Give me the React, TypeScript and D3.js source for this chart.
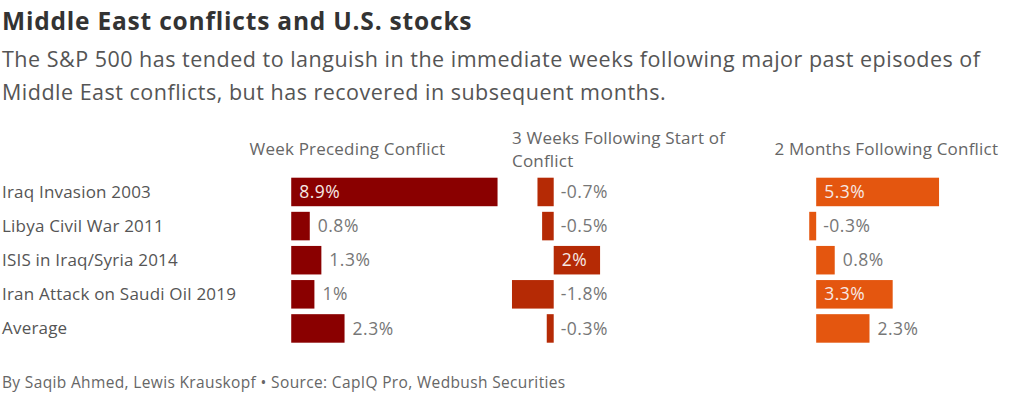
import React, { useEffect, useRef } from 'react'
import * as d3 from 'd3'

const conflicts = [
  'Iraq Invasion 2003',
  'Libya Civil War 2011',
  'ISIS in Iraq/Syria 2014',
  'Iran Attack on Saudi Oil 2019',
  'Average',
]
const periods = ['Week Preceding Conflict', '3 Weeks Following Start of Conflict', '2 Months Following Conflict']
const periodLines = [['Week Preceding Conflict'], ['3 Weeks Following Start of', 'Conflict'], ['2 Months Following Conflict']]
const weekBefore = [8.9, 0.8, 1.3, 1.0, 2.3]
const threeWeeksAfter = [-0.7, -0.5, 2.0, -1.8, -0.3]
const twoMonthsAfter = [5.3, -0.3, 0.8, 3.3, 2.3]
const colors = ['#8a0000', '#b52a05', '#e4560f']

const title = 'Middle East conflicts and U.S. stocks'
const subtitle = [
  'The S&P 500 has tended to languish in the immediate weeks following major past episodes of',
  'Middle East conflicts, but has recovered in subsequent months.',
]
const footer = 'By Saqib Ahmed, Lewis Krauskopf \u2022 Source: CapIQ Pro, Wedbush Securities'

const WIDTH = 1024
const HEIGHT = 394
const FONT = '"Open Sans", Lato, sans-serif'

const fmt = (v: number) => String(v) + '%'

const App = (): JSX.Element => {
  const ref = useRef<SVGSVGElement>(null)

  useEffect(() => {
    document.body.style.margin = '0'
    const svg = d3.select(ref.current)
    svg.selectAll('*').remove()
    svg.style('font-family', FONT)

    svg
      .append('text')
      .attr('x', 2)
      .attr('y', 30)
      .attr('font-size', 24.5)
      .attr('letter-spacing', 0.8)
      .attr('font-weight', 700)
      .attr('fill', '#333')
      .text(title)

    svg
      .selectAll('text.sub')
      .data(subtitle)
      .join('text')
      .attr('class', 'sub')
      .attr('x', 2)
      .attr('y', (_, i) => 67 + i * 33)
      .attr('font-size', 21.5)
      .attr('letter-spacing', 0.5)
      .attr('fill', '#555')
      .text(d => d)

    const series = [weekBefore, threeWeeksAfter, twoMonthsAfter]
    const all = series.flat()

    const col = d3.scaleBand().domain(periods).range([249.5, 1022.5]).paddingInner(0.055)
    const row = d3.scaleBand().domain(conflicts).range([177.7, 342.7]).paddingInner(0.164)
    const x = d3
      .scaleLinear()
      .domain([d3.min(all) as number, d3.max(all) as number])
      .range([0, col.bandwidth()])

    // row labels
    svg
      .selectAll('text.row')
      .data(conflicts)
      .join('text')
      .attr('class', 'row')
      .attr('x', 2)
      .attr('y', d => (row(d) as number) + row.bandwidth() / 2)
      .attr('dy', '0.35em')
      .attr('font-size', 17)
      .attr('letter-spacing', 0.2)
      .attr('fill', '#555')
      .text(d => d)

    periods.forEach((p, ci) => {
      const g = svg.append('g').attr('transform', `translate(${col(p)},0)`)
      const lines = periodLines[ci]
      g.selectAll('text.head')
        .data(lines)
        .join('text')
        .attr('class', 'head')
        .attr('x', 0)
        .attr('y', (_, i) => 155 - ((lines.length - 1) * 23) / 2 + i * 23)
        .attr('font-size', 17)
        .attr('letter-spacing', 0.2)
        .attr('fill', '#666')
        .text(d => d)

      const vals = series[ci]
      vals.forEach((v, ri) => {
        const y0 = row(conflicts[ri]) as number
        const x0 = x(Math.min(0, v))
        const w = Math.abs(x(v) - x(0))
        g.append('rect')
          .attr('x', x0)
          .attr('y', y0)
          .attr('width', w)
          .attr('height', row.bandwidth())
          .attr('fill', colors[ci])

        const label = g
          .append('text')
          .attr('y', y0 + row.bandwidth() / 2)
          .attr('dy', '0.35em')
          .attr('font-size', 17.5)
          .attr('letter-spacing', 0.5)
          .text(fmt(v))
        const tw = (label.node() as SVGTextElement).getComputedTextLength()
        if (v > 0 && tw + 20 < w) {
          label.attr('x', x(0) + 8).attr('fill', '#f6e8e4')
        } else if (v > 0) {
          label.attr('x', x(v) + 8).attr('fill', '#777')
        } else {
          label.attr('x', x(0) + 7).attr('fill', '#777')
        }
      })
    })

    svg
      .append('text')
      .attr('x', 2)
      .attr('y', 388)
      .attr('font-size', 15.5)
      .attr('letter-spacing', 0.35)
      .attr('fill', '#666')
      .text(footer)
  }, [])

  return <svg ref={ref} width={WIDTH} height={HEIGHT} style={{ display: 'block' }} />
}

export default App
